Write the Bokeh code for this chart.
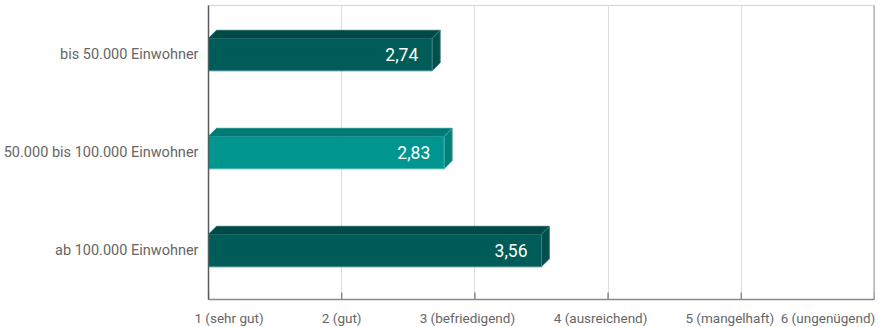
from bokeh.plotting import figure
from bokeh.models import FixedTicker, LinearAxis, Span, Range1d, Grid, ColumnDataSource
from bokeh.core.properties import value
from bokeh.embed import file_html
from bokeh.resources import INLINE

# ---- data ----
categories = ["bis 50.000 Einwohner", "50.000 bis 100.000 Einwohner", "ab 100.000 Einwohner"]
scores = [2.74, 2.83, 3.56]
score_labels = ["2,74", "2,83", "3,56"]
grade_ticks = [1, 2, 3, 4, 5, 6]
grade_labels = ["1 (sehr gut)", "2 (gut)", "3 (befriedigend)", "4 (ausreichend)",
                "5 (mangelhaft)", "6 (ungenügend)"]

# ---- styles ----
front_colors = ["#005c58", "#00958f", "#005c58"]
top_colors = ["#004a47", "#007a76", "#004a47"]
side_colors = ["#00504d", "#007f7b", "#00504d"]
edge_colors = ["#3f8885", "#45b3ad", "#3f8885"]
FONT = "Roboto"
TXT = "#666666"

FRAME_W, FRAME_H = 666, 294
X0, X1 = 1, 6
n = len(categories)
px_x = FRAME_W / (X1 - X0)
px_y = FRAME_H / n
half = 16.3 / px_y          # half height of front face
dx = 8 / px_x               # 3d depth (x)
dy = 8 / px_y               # 3d depth (y)

ypos = [n - 1 - i for i in range(n)]

p = figure(width=887, height=327, frame_width=FRAME_W, frame_height=FRAME_H,
           x_range=Range1d(X0, X1), y_range=Range1d(-0.5, n - 0.5),
           output_backend="svg", toolbar_location=None,
           x_axis_location=None, y_axis_location=None,
           min_border_left=207, min_border_right=14, min_border_top=5, min_border_bottom=0,
           background_fill_color="white", border_fill_color="white",
           outline_line_color="#d4d4d4")
p.grid.visible = False

p.add_layout(Grid(dimension=0, ticker=FixedTicker(ticks=grade_ticks[1:-1]),
                  grid_line_color="#dcdcdc", grid_line_width=1))

# inside tick marks on bottom axis
p.segment(x0=grade_ticks, y0=[-0.5] * len(grade_ticks), x1=grade_ticks,
          y1=[-0.5 + 7 / px_y] * len(grade_ticks), line_color="#8a8a8a", line_width=1.5)

# bars
front = ColumnDataSource(dict(
    left=[X0] * n, right=[v - dx for v in scores],
    bottom=[y - half for y in ypos], top=[y + half for y in ypos],
    color=front_colors, edge=edge_colors))
p.quad(left="left", right="right", bottom="bottom", top="top", source=front,
       fill_color="color", line_color="edge", line_width=1)

top_xs = [[X0, X0 + dx, v, v - dx] for v in scores]
top_ys = [[y + half, y + half + dy, y + half + dy, y + half] for y in ypos]
p.patches(xs=top_xs, ys=top_ys, fill_color=top_colors, line_color=top_colors, line_width=0.5)

side_xs = [[v - dx, v, v, v - dx] for v in scores]
side_ys = [[y - half, y - half + dy, y + half + dy, y + half] for y in ypos]
p.patches(xs=side_xs, ys=side_ys, fill_color=side_colors, line_color=edge_colors, line_width=0.8)

p.text(x=[v - dx for v in scores], y=ypos, text=score_labels, x_offset=-14,
       text_align="right", text_baseline="middle", text_color="white",
       text_font=value(FONT), text_font_size="17.5px")

# right border
p.add_layout(Span(location=X1, dimension="height", line_color="#9a9a9a", line_width=2))

# left axis (categories)
yax = LinearAxis(ticker=FixedTicker(ticks=ypos),
                 major_label_overrides={ypos[i]: categories[i] for i in range(n)},
                 major_tick_in=0, major_tick_out=0, minor_tick_in=0, minor_tick_out=0,
                 major_label_standoff=10, axis_line_color="#5a5a5a", axis_line_width=1.5,
                 major_label_text_font=FONT, major_label_text_font_size="14.5px",
                 major_label_text_color=TXT)
p.add_layout(yax, "left")

# bottom axis (grade labels, shifted to fit inside the frame)
label_shift_px = [20.5, 0, -7.5, -7.5, -11.5, -46.5]
label_pos = [t + s / px_x for t, s in zip(grade_ticks, label_shift_px)]
xax = LinearAxis(ticker=FixedTicker(ticks=label_pos),
                 major_label_overrides={label_pos[i]: grade_labels[i] for i in range(len(grade_labels))},
                 major_tick_in=0, major_tick_out=0, minor_tick_in=0, minor_tick_out=0,
                 major_label_standoff=10, axis_line_color="#8a8a8a", axis_line_width=1.5,
                 major_label_text_font=FONT, major_label_text_font_size="13.5px",
                 major_label_text_color=TXT)
p.add_layout(xax, "below")

open("out.html", "w").write(file_html(p, INLINE))
